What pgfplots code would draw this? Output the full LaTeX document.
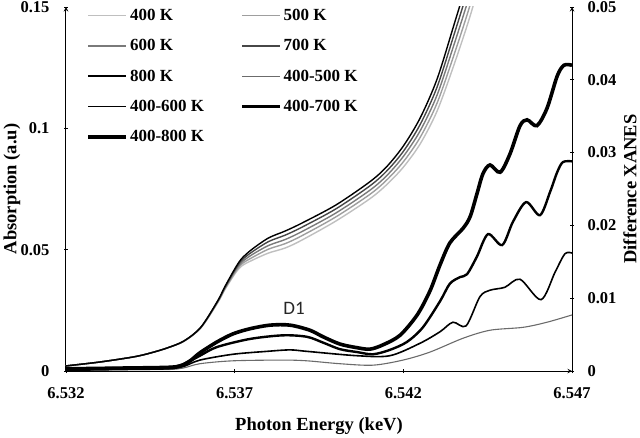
\documentclass[border=0pt]{standalone}
\usepackage{pgfplots}
\usepackage{pgfplotstable}
\pgfplotsset{compat=1.18}
\usepackage{fontspec}
\setmainfont{Liberation Serif}
\newfontfamily\calibri{Carlito}

\definecolor{c400}{gray}{0.75}
\definecolor{c500}{gray}{0.62}
\definecolor{c600}{gray}{0.48}
\definecolor{c700}{gray}{0.28}
\definecolor{c800}{gray}{0}
\definecolor{d500}{gray}{0.42}

\pgfplotstableread{
x       a800    a700    a600    a500    a400
6.5320  0.0021  0.0021  0.0021  0.0021  0.0021
6.5330  0.0037  0.0037  0.0037  0.0037  0.0037
6.5340  0.0058  0.0058  0.0058  0.0058  0.0058
6.5345  0.0074  0.0074  0.0074  0.0074  0.0074
6.5350  0.0095  0.0095  0.0095  0.0095  0.0095
6.5355  0.0124  0.0124  0.0123  0.0123  0.0123
6.5360  0.0181  0.0180  0.0180  0.0179  0.0178
6.5365  0.0290  0.0288  0.0286  0.0284  0.0282
6.5367  0.0345  0.0342  0.0339  0.0336  0.0333
6.5370  0.0420  0.0415  0.0410  0.0404  0.0399
6.5372  0.0462  0.0455  0.0447  0.0440  0.0432
6.5375  0.0500  0.0489  0.0478  0.0466  0.0455
6.5380  0.0548  0.0533  0.0517  0.0502  0.0486
6.5385  0.0577  0.0560  0.0542  0.0525  0.0507
6.5390  0.0610  0.0593  0.0575  0.0558  0.0540
6.5400  0.0684  0.0668  0.0651  0.0635  0.0618
6.5410  0.0779  0.0762  0.0744  0.0727  0.0709
6.5415  0.0841  0.0823  0.0804  0.0786  0.0767
6.5420  0.0927  0.0905  0.0884  0.0862  0.0840
6.5425  0.1043  0.1016  0.0990  0.0963  0.0936
6.5430  0.1203  0.1170  0.1137  0.1104  0.1071
6.5435  0.1426  0.1385  0.1344  0.1302  0.1261
6.5440  0.1657  0.1611  0.1565  0.1518  0.1472
6.5445  0.1920  0.1870  0.1820  0.1770  0.1720
}\absdata

\begin{document}
\begin{tikzpicture}
\pgfplotsset{
  every axis/.append style={
    width=506pt, height=364pt, scale only axis,
    at={(0,0)}, anchor=south west,
    xmin=6.532, xmax=6.547,
    tick align=inside, major tick length=4pt,
    tick style={black, line width=0.8pt},
    axis line style={black, line width=1pt, -},
    ticklabel style={font=\bfseries\fontsize{16.5}{18}\selectfont},
  }
}
\begin{axis}[
  axis x line=bottom, axis y line=left,
  ymin=0, ymax=0.15,
  xtick={6.532,6.537,6.542,6.547},
  xticklabels={6.532,6.537,6.542,6.547},
  ytick={0,0.05,0.1,0.15},
  yticklabels={0,0.05,0.1,0.15},
  scaled ticks=false,
  xticklabel shift=11pt, yticklabel shift=11pt,
  xlabel={Photon Energy (keV)},
  ylabel={Absorption (a.u)},
  xlabel style={at={(axis description cs:0.5,-0.151)}, anchor=center, font=\bfseries\fontsize{18.5}{20}\selectfont},
  ylabel style={at={(axis description cs:-0.107,0.5)}, anchor=center, font=\bfseries\fontsize{18.5}{20}\selectfont},
]
\addplot[c400, line width=1.4pt, smooth] table[x=x, y=a400] {\absdata};
\addplot[c500, line width=1.4pt, smooth] table[x=x, y=a500] {\absdata};
\addplot[c600, line width=1.4pt, smooth] table[x=x, y=a600] {\absdata};
\addplot[c700, line width=1.4pt, smooth] table[x=x, y=a700] {\absdata};
\addplot[c800, line width=1.4pt, smooth] table[x=x, y=a800] {\absdata};
\end{axis}

\begin{axis}[
  axis x line=none, axis y line=right,
  ymin=0, ymax=0.05,
  ytick={0,0.01,0.02,0.03,0.04,0.05},
  yticklabels={0,0.01,0.02,0.03,0.04,0.05},
  scaled ticks=false,
  yticklabel shift=10pt,
  ylabel={Difference XANES},
  ylabel style={at={(axis description cs:1.1146,0.5)}, anchor=center, font=\bfseries\fontsize{18.5}{20}\selectfont},
  legend columns=2,
  legend cell align=left,
  legend image code/.code={\draw[#1] (0pt,0pt) -- (38pt,0pt);},
  legend style={at={(axis description cs:0.04,1.0)}, anchor=north west,
    draw=none, fill=none, inner sep=0pt, row sep=13.5pt,
    font=\bfseries\fontsize{17}{18}\selectfont,
    /tikz/every even column/.append style={column sep=35pt}},
]
\addlegendimage{c400, line width=1.3pt}
\addlegendentry{400 K}
\addlegendimage{c500, line width=1.3pt}
\addlegendentry{500 K}
\addlegendimage{c600, line width=1.5pt}
\addlegendentry{600 K}
\addlegendimage{c700, line width=1.6pt}
\addlegendentry{700 K}
\addlegendimage{c800, line width=1.9pt}
\addlegendentry{800 K}

\addplot[d500, line width=1.1pt, smooth] coordinates {
(6.5320,0.0001)(6.5336,0.0002)(6.5350,0.0002)(6.53547,0.0004)(6.53597,0.0010)(6.53695,0.0014)
(6.53843,0.0015)(6.53914,0.0014)(6.54012,0.0010)(6.54110,0.0008)(6.54199,0.0015)
(6.54279,0.0026)(6.54377,0.0045)(6.54457,0.0056)(6.54555,0.0060)(6.54626,0.0067)
(6.54700,0.0077)
};
\addlegendentry{400-500 K}

\addplot[black, line width=1.6pt, smooth] coordinates {
(6.5320,0.0001)(6.5336,0.0002)(6.5350,0.0003)(6.53547,0.0006)(6.53597,0.0015)(6.53695,0.0023)
(6.53796,0.0027)(6.53864,0.0029)(6.53914,0.0027)(6.54063,0.0021)
(6.54160,0.0021)(6.54249,0.0038)(6.54309,0.0054)(6.54347,0.0067)(6.54386,0.0062)
(6.54427,0.0102)(6.54457,0.0111)(6.54501,0.0115)(6.54546,0.0126)(6.54608,0.0098)
(6.54650,0.0136)(6.54679,0.0161)(6.54700,0.0162)
};
\addlegendentry{400-600 K}

\addplot[black, line width=2.4pt, smooth] coordinates {
(6.5320,0.0003)(6.5336,0.0004)(6.5350,0.0005)(6.53547,0.0009)(6.53597,0.0021)(6.53648,0.0033)
(6.53745,0.0044)(6.53843,0.0049)(6.53914,0.0047)(6.53962,0.0039)
(6.54012,0.0030)(6.54063,0.0026)(6.54110,0.0023)(6.54160,0.0029)(6.54211,0.0040)
(6.54258,0.0060)(6.54309,0.0096)(6.54338,0.0120)(6.54368,0.0129)(6.54389,0.0133)
(6.54418,0.0157)(6.54451,0.0188)(6.54493,0.0173)(6.54525,0.0205)(6.54564,0.0232)
(6.54605,0.0214)(6.54635,0.0246)(6.54656,0.0273)(6.54673,0.0287)(6.54700,0.0288)
};
\addlegendentry{400-700 K}

\addplot[black, line width=3.6pt, smooth] coordinates {
(6.5320,0.0003)(6.5336,0.0004)(6.5350,0.0005)(6.53538,0.0007)(6.53568,0.0014)(6.53597,0.0025)
(6.53648,0.0040)(6.53695,0.0051)(6.53745,0.0058)(6.53805,0.0063)(6.53864,0.0063)
(6.53923,0.0056)(6.53962,0.0047)
(6.54012,0.0037)(6.54063,0.0032)(6.54101,0.0030)(6.54140,0.0036)(6.54190,0.0049)
(6.54241,0.0077)(6.54279,0.0110)(6.54309,0.0146)(6.54338,0.0176)(6.54377,0.0196)
(6.54398,0.0212)(6.54418,0.0243)(6.54436,0.0271)(6.54457,0.0283)(6.54487,0.0273)
(6.54516,0.0298)(6.54546,0.0337)(6.54567,0.0345)(6.54596,0.0337)(6.54626,0.0361)
(6.54656,0.0405)(6.54676,0.0420)(6.54700,0.0420)
};
\addlegendentry{400-800 K}

\node[font=\calibri\fontsize{19}{20}\selectfont, text=black!85] at (axis cs:6.53876,0.00865) {D1};
\end{axis}
\pgfresetboundingbox
\path (-66pt,-66pt) rectangle (574pt,371pt);
\end{tikzpicture}
\end{document}
